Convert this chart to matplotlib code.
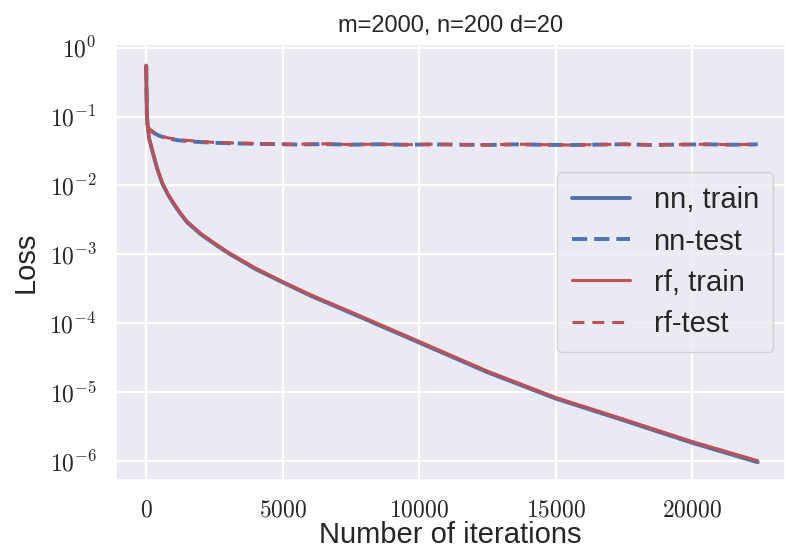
import math
import matplotlib
matplotlib.use('Agg')
import matplotlib.pyplot as plt
import seaborn as sns
from matplotlib.ticker import FuncFormatter, LogLocator

# Loss curves: training / test loss of a two-layer net vs. random features model
iters_train = [0, 10, 25, 50, 100, 150, 250, 400, 600, 800, 1000, 1250, 1500,
               2000, 2500, 3000, 4000, 5000, 6000, 7500, 10000, 12500, 15000,
               17500, 20000, 22400]
nn_train = [0.55, 0.24, 0.105, 0.073, 0.049, 0.041, 0.029, 0.0175, 0.0104,
            0.0073, 0.0054, 0.0039, 0.0029, 0.00195, 0.00141, 0.00104, 0.00061,
            0.00039, 0.000252, 0.000140, 5.2e-5, 1.93e-5, 8.0e-6, 3.85e-6,
            1.82e-6, 0.95e-6]
rf_train = [0.55, 0.25, 0.11, 0.074, 0.050, 0.042, 0.030, 0.018, 0.0107,
            0.0075, 0.0056, 0.0040, 0.0030, 0.0020, 0.00145, 0.00107, 0.00063,
            0.00040, 0.00026, 0.000145, 5.4e-5, 2.0e-5, 8.3e-6, 4.0e-6,
            1.9e-6, 1.0e-6]

iters_test = [0, 10, 25, 50, 100, 200, 300, 500, 800, 1200, 1800, 2500, 3500,
              4500, 5500, 6500, 7500, 8500, 9500, 10500, 11500, 12500, 13500,
              14500, 15500, 16500, 17500, 18500, 19500, 20500, 21500, 22400]
nn_test = [0.55, 0.24, 0.105, 0.074, 0.067, 0.061, 0.057, 0.052, 0.048, 0.045,
           0.043, 0.0415, 0.0405, 0.0398, 0.0392, 0.0398, 0.0390, 0.0395,
           0.0389, 0.0394, 0.0390, 0.0386, 0.0394, 0.0389, 0.0385, 0.0390,
           0.0395, 0.0386, 0.0391, 0.0394, 0.0389, 0.0394]
rf_test = [0.55, 0.25, 0.11, 0.075, 0.068, 0.062, 0.058, 0.053, 0.049, 0.046,
           0.044, 0.042, 0.041, 0.0400, 0.0395, 0.0401, 0.0391, 0.0396,
           0.0390, 0.0396, 0.0391, 0.0387, 0.0396, 0.0390, 0.0386, 0.0391,
           0.0396, 0.0387, 0.0392, 0.0396, 0.0390, 0.0396]

blue = '#4C72B0'
red = '#C44E52'

sns.set_theme(style='darkgrid')
plt.rcParams['font.family'] = ['Liberation Sans', 'DejaVu Sans']
plt.rcParams['mathtext.fontset'] = 'cm'
plt.rcParams['mathtext.default'] = 'rm'

fig = plt.figure(figsize=(7.85, 5.53), dpi=100)
ax = fig.add_axes([0.148, 0.132, 0.852, 0.788])

ax.plot(iters_train, nn_train, color=blue, lw=2.8, label='nn, train')
ax.plot(iters_test, nn_test, color=blue, lw=2.8, dashes=(3.9, 1.8), label='nn-test')
ax.plot(iters_train, rf_train, color=red, lw=2.2, label='rf, train')
ax.plot(iters_test, rf_test, color=red, lw=2.2, dashes=(3.9, 2.6), label='rf-test')

ax.set_yscale('log')
ax.yaxis.set_major_locator(LogLocator(base=10, numticks=12))
ax.yaxis.set_major_formatter(FuncFormatter(
    lambda v, p: r'$10^{%d}$' % round(math.log10(v))))
ax.set_xlim(-1100, 23400)
ax.set_ylim(10 ** -6.28, 10 ** 0.05)
ax.set_xticks([0, 5000, 10000, 15000, 20000])
ax.xaxis.set_major_formatter(FuncFormatter(lambda v, p: r'$%d$' % int(v)))
ax.tick_params(axis='both', labelsize=17, length=0, colors='.15')
ax.tick_params(axis='y', pad=14)
ax.tick_params(axis='x', pad=14)
ax.grid(True, which='major', color='white', lw=1.6)
ax.grid(False, which='minor')

ax.set_xlabel('Number of iterations', fontsize=21, color='.15', labelpad=0)
ax.set_ylabel('Loss', fontsize=21, color='.15', labelpad=7)
ax.set_title('m=2000, n=200 d=20', fontsize=17, color='.15', pad=9)

leg = ax.legend(loc='center right', fontsize=21, handlelength=2.0,
                borderaxespad=0.4, labelspacing=0.45, borderpad=0.5)
leg.get_frame().set_edgecolor('#cccccc')
for t in leg.get_texts():
    t.set_color('.15')

fig.savefig('out.png', dpi=100)
